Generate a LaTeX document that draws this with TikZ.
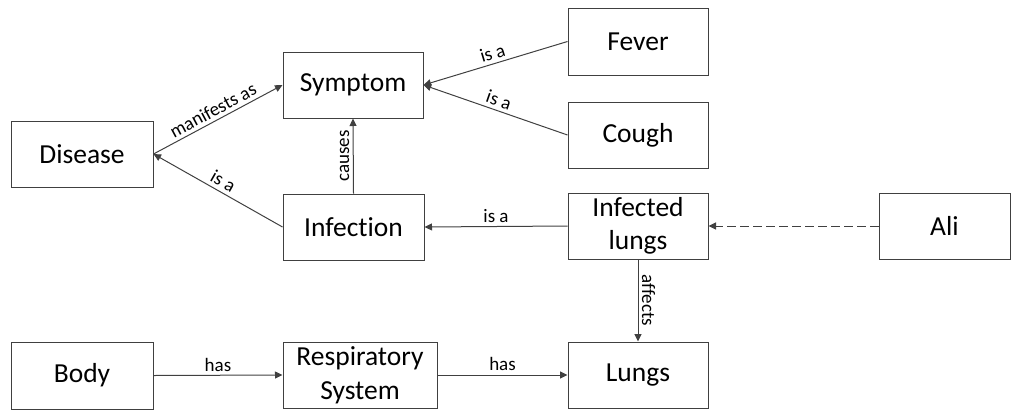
\documentclass[tikz,border=0pt]{standalone}
\usepackage{fontspec}
\setmainfont{Carlito}[Ligatures={NoCommon}]
\usetikzlibrary{arrows.meta}
\definecolor{linegray}{RGB}{64,64,64}
\begin{document}
\begin{tikzpicture}[x=1pt,y=-1pt,
  concept/.style={draw=linegray, line width=1pt, rectangle, inner sep=0pt,
    minimum width=140pt, minimum height=66pt, align=center,
    font=\fontsize{27.5}{33.5}\selectfont, text=black},
  rel/.style={draw=linegray, line width=1pt, -{Triangle[length=7.5pt,width=7pt]}},
  lbl/.style={font=\fontsize{19}{21}\selectfont, text=black, inner sep=3.5pt},
]
\useasboundingbox (0,0) rectangle (1011,410);

% concepts
\node[concept, minimum width=142pt] (disease) at (82,154) {Disease};
\node[concept] (symptom) at (353,85) {Symptom};
\node[concept, minimum width=141pt] (infection) at (353.5,227) {Infection};
\node[concept, minimum height=67pt] (fever) at (638,41.5) {Fever};
\node[concept] (cough) at (638,135) {Cough};
\node[concept] (influngs) at (638,226) {Infected\\lungs};
\node[concept, minimum width=131pt] (ali) at (944.5,226) {Ali};
\node[concept, minimum width=142pt, minimum height=67pt] (body) at (82,375.5) {Body};
\node[concept, minimum width=154pt] (resp) at (360,375) {Respiratory\\System};
\node[concept] (lungs) at (638,375) {Lungs};

% relations
\draw[rel] (disease.east) -- node[lbl, sloped, above] {manifests as} (symptom.west);
\draw[rel] (infection.west) -- node[lbl, sloped, above] {is a} (disease.east);
\draw[rel] (infection.north) -- node[lbl, midway, rotate=90, anchor=south] {causes} (symptom.south);
\draw[rel] (fever.west) -- node[lbl, sloped, above] {is a} (symptom.east);
\draw[rel] (cough.west) -- node[lbl, sloped, above] {is a} (symptom.east);
\draw[rel] (influngs.west) -- node[lbl, above] {is a} (infection.east);
\draw[rel, dash pattern=on 9pt off 4pt] (ali.west) -- (influngs.east);
\draw[rel] (influngs.south) -- node[lbl, midway, rotate=-90, anchor=south] {affects} (lungs.north);
\draw[rel] (body.east) -- node[lbl, above] {has} (resp.west);
\draw[rel] (resp.east) -- node[lbl, above] {has} (lungs.west);
\end{tikzpicture}
\end{document}
